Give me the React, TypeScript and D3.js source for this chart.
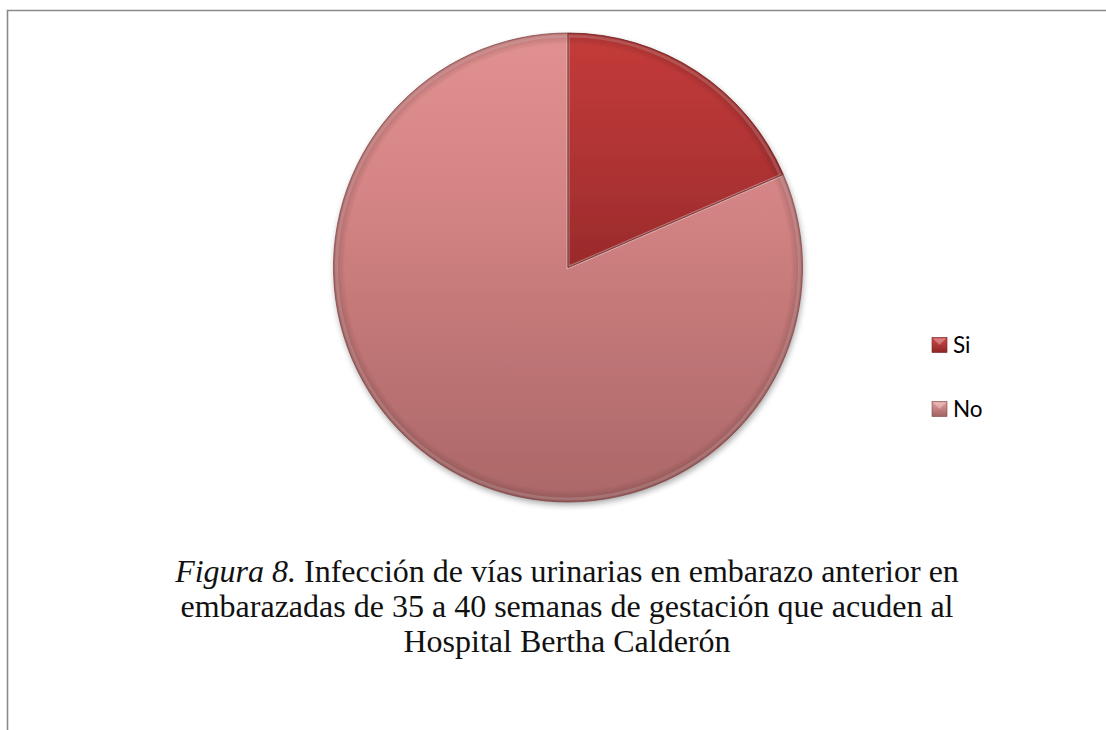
import React from "react";
import * as d3 from "d3";

const categories = ["Si", "No"];
const values = [18.5, 81.5];
const captionItalic = "Figura 8.";
const captionLines = [
  " Infección de vías urinarias en embarazo anterior en",
  "embarazadas de 35 a 40 semanas de gestación que acuden al",
  "Hospital Bertha Calderón",
];

const W = 1106;
const H = 730;
const cx = 568;
const cy = 267.5;
const R = 234.5;

const strokeCol = ["#6a1e1e", "#7a4546"];

export default function App() {
  const pie = d3
    .pie<number>()
    .sort(null)
    .value((d) => d)
    .startAngle(0)
    .endAngle(2 * Math.PI);
  const arcs = pie(values);
  const arc = d3.arc<d3.PieArcDatum<number>>().innerRadius(0).outerRadius(R);
  const arcIn = d3.arc<d3.PieArcDatum<number>>().innerRadius(0).outerRadius(R - 3);

  const legendY = d3.scalePoint<string>().domain(categories).range([345, 409]);

  return (
    <div style={{ position: "fixed", left: 0, top: 0, width: W, height: H, background: "#fff" }}>
      <svg width={W} height={H} style={{ display: "block" }}>
        <defs>
          <linearGradient id="g0" gradientUnits="userSpaceOnUse" x1="0" y1={-R} x2="0" y2={0}>
            <stop offset="0" stopColor="#c43b3a" />
            <stop offset="0.5" stopColor="#b13434" />
            <stop offset="1" stopColor="#9a2a2b" />
          </linearGradient>
          <linearGradient id="g1" gradientUnits="userSpaceOnUse" x1="0" y1={-R} x2="0" y2={R}>
            <stop offset="0" stopColor="#e29191" />
            <stop offset="0.35" stopColor="#d48484" />
            <stop offset="0.6" stopColor="#c47878" />
            <stop offset="1" stopColor="#ab6768" />
          </linearGradient>
          <radialGradient id="rim" gradientUnits="userSpaceOnUse" cx={0} cy={0} r={R}>
            <stop offset="0.95" stopColor="#000" stopOpacity="0" />
            <stop offset="1" stopColor="#3a1010" stopOpacity="0.22" />
          </radialGradient>
          <linearGradient id="lg0" x1="0" y1="0" x2="0" y2="1">
            <stop offset="0" stopColor="#d24a4a" />
            <stop offset="1" stopColor="#8e2526" />
          </linearGradient>
          <linearGradient id="lg1" x1="0" y1="0" x2="0" y2="1">
            <stop offset="0" stopColor="#e69d9d" />
            <stop offset="1" stopColor="#9f6263" />
          </linearGradient>
          <filter id="shadow" x="-10%" y="-10%" width="120%" height="120%">
            <feGaussianBlur in="SourceAlpha" stdDeviation="3" />
            <feOffset dx="1" dy="3" result="b" />
            <feComponentTransfer>
              <feFuncA type="linear" slope="0.35" />
            </feComponentTransfer>
            <feMerge>
              <feMergeNode />
              <feMergeNode in="SourceGraphic" />
            </feMerge>
          </filter>
        </defs>

        {/* frame */}
        <path d={`M7.5,${H} L7.5,10.5 L${W + 2},10.5`} fill="none" stroke="#8a8a8a" strokeWidth={1.6} />

        <g transform={`translate(${cx},${cy})`} filter="url(#shadow)">
          {arcs.map((a, i) => (
            <path key={categories[i]} d={arc(a) || ""} fill={`url(#g${i})`} />
          ))}
        </g>
        <g transform={`translate(${cx},${cy})`}>
          {arcs.map((a, i) => (
            <path
              key={"hl" + i}
              d={arcIn(a) || ""}
              fill="none"
              stroke="#ffffff"
              strokeOpacity={0.2}
              strokeWidth={3}
            />
          ))}
          <circle r={R} fill="url(#rim)" />
          {arcs.map((a, i) => (
            <path key={"st" + i} d={arc(a) || ""} fill="none" stroke={strokeCol[i]} strokeWidth={1} strokeOpacity={0.75} />
          ))}
        </g>

        {/* legend */}
        {categories.map((c, i) => {
          const y = legendY(c) as number;
          return (
            <g key={c}>
              <rect x={932} y={y - 7.5} width={15} height={15} fill={`url(#lg${i})`} stroke={strokeCol[i]} strokeWidth={0.6} />
              <path d={`M${933},${y - 6.5} L${946},${y - 6.5} L${939.5},${y}Z`} fill="#ffffff" opacity={0.3} />
              <text x={953} y={y + 7.5} fontFamily="Lato, 'Open Sans', sans-serif" fontSize={22.5} fill="#000">
                {c}
              </text>
            </g>
          );
        })}

        {/* caption */}
        <g fontFamily="'Liberation Serif', 'Times New Roman', serif" fontSize={32} fill="#111" textAnchor="middle">
          <text x={567} y={582}>
            <tspan fontStyle="italic">{captionItalic}</tspan>
            <tspan>{captionLines[0]}</tspan>
          </text>
          <text x={567} y={617}>{captionLines[1]}</text>
          <text x={567} y={652}>{captionLines[2]}</text>
        </g>
      </svg>
    </div>
  );
}
